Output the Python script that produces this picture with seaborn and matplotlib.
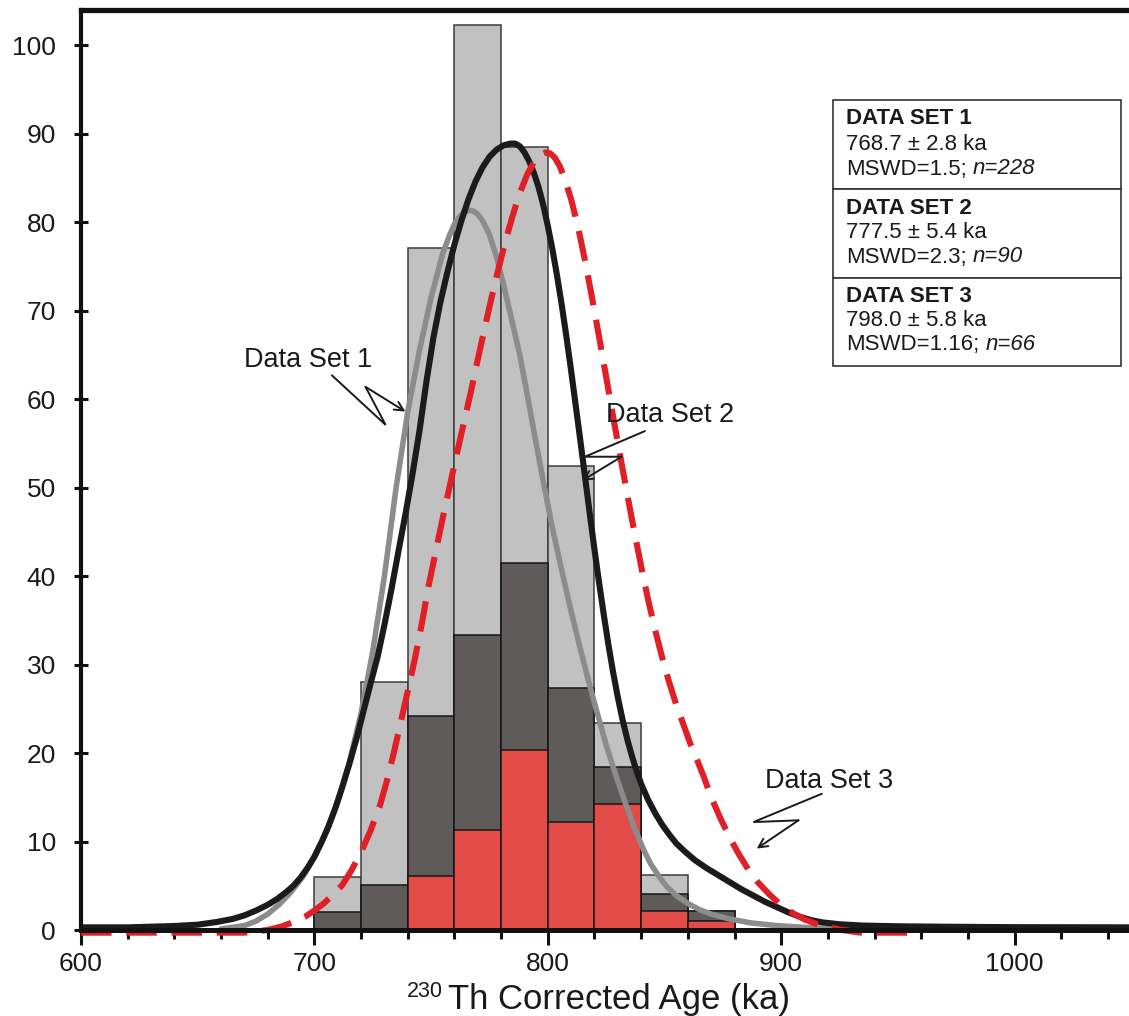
import matplotlib
matplotlib.use("Agg")
import matplotlib.pyplot as plt
import seaborn as sns
from matplotlib.patches import Rectangle
from matplotlib.text import Annotation

# ---- histogram (20 ka bins), one layer per data set ----
bin_edges = [700, 720, 740, 760, 780, 800, 820, 840, 860, 880]
hist_set1 = [6.0, 28.0, 77.1, 102.3, 88.5, 52.4, 23.4, 6.2, 2.1]
hist_set2 = [2.0, 5.1, 24.2, 33.3, 41.5, 27.4, 18.4, 4.1, 2.1]
hist_set3 = [0.0, 0.0, 6.1, 11.3, 20.4, 12.2, 14.3, 2.1, 1.05]

# ---- probability curves ----
curve1_age = [660, 670, 675, 680, 685, 690, 695, 700, 705, 710, 715, 720, 725, 730, 735,
              740, 745, 750, 755, 758, 760, 762, 764, 766, 768, 770, 772, 775, 778, 781,
              784, 788, 791, 795, 798, 802, 806, 810, 814, 818, 821, 825, 829, 833, 837,
              841, 844, 848, 851, 855, 860, 865, 870, 877, 887, 898, 910, 925, 940]
curve1_val = [0.12, 0.5, 1.0, 1.8, 2.9, 4.3, 6.0, 8.2, 11.0, 14.5, 19.0, 24.5, 31.5, 40.0, 50.0,
              58.6, 65.5, 71.5, 76.5, 78.6, 79.8, 80.6, 81.1, 81.35, 81.3, 80.9, 80.2, 78.6, 76.1, 73.0,
              69.6, 65.0, 60.8, 55.0, 50.8, 45.4, 40.6, 36.0, 31.7, 27.6, 24.7, 20.9, 17.6, 14.5, 11.6,
              9.1, 7.5, 5.9, 4.9, 3.9, 3.0, 2.3, 1.8, 1.3, 0.8, 0.5, 0.3, 0.15, 0.1]

curve2_age = [600, 620, 640, 650, 658, 665, 670, 675, 680, 684, 688, 691, 694, 697, 700,
              703, 706, 709, 712, 715, 718, 721, 724, 727, 730, 733, 736, 739, 742, 745,
              748, 751, 754, 757, 760, 763, 766, 769, 772, 775, 778, 781, 784, 786, 788,
              790, 792, 794, 796, 798, 800, 802, 804, 806, 808, 810, 812, 814, 816, 818,
              820, 822, 824, 826, 828, 830, 832, 834, 836, 838, 840, 843, 846, 849, 852,
              855, 859, 863, 868, 873, 878, 883, 888, 893, 898, 903, 908, 913, 918, 925,
              935, 950, 970, 1000, 1050]
curve2_val = [0.3, 0.3, 0.45, 0.6, 0.9, 1.25, 1.65, 2.2, 2.85, 3.5, 4.3, 5.0, 5.9, 7.0, 8.3,
              9.9, 11.7, 13.8, 16.2, 18.8, 21.6, 24.7, 27.8, 30.8, 34.5, 38.5, 42.8, 47.0, 51.5, 56.4,
              62.0, 67.0, 71.0, 74.4, 77.5, 80.2, 82.6, 84.6, 86.2, 87.4, 88.2, 88.7, 88.9, 88.9, 88.6,
              87.9, 86.9, 85.6, 84.0, 82.0, 79.6, 76.9, 73.9, 70.6, 67.0, 63.2, 59.2, 55.2, 51.1, 47.0,
              43.0, 39.2, 35.6, 32.2, 29.1, 26.3, 23.8, 21.6, 19.7, 18.0, 16.5, 14.7, 13.2, 11.9, 10.8,
              9.8, 8.8, 7.9, 7.0, 6.2, 5.4, 4.6, 3.9, 3.2, 2.6, 2.0, 1.5, 1.1, 0.85, 0.65,
              0.5, 0.42, 0.37, 0.32, 0.3]

curve3_age = [600, 640, 670, 680, 686, 691, 696, 700, 704, 708, 712, 716, 720, 724, 728,
              731, 734, 737, 740, 743, 746, 749, 752, 755, 758, 761, 764, 767, 770, 773,
              776, 779, 782, 785, 788, 791, 794, 797, 799, 801, 803, 805, 807, 810, 813,
              816, 819, 822, 825, 828, 831, 834, 837, 840, 843, 846, 849, 852, 855, 858,
              861, 864, 867, 870, 874, 878, 882, 886, 890, 895, 900, 905, 910, 915, 920,
              926, 934, 960]
curve3_val = [-0.3, -0.3, -0.3, 0.0, 0.4, 0.9, 1.5, 2.2, 3.0, 4.0, 5.1, 6.8, 8.8, 11.2, 14.0,
              16.8, 20.0, 23.5, 27.0, 30.6, 34.6, 39.0, 42.8, 46.6, 50.2, 53.8, 57.3, 60.8, 64.5, 68.1,
              71.6, 74.9, 78.0, 80.8, 83.3, 85.3, 86.8, 87.7, 87.9, 87.8, 87.3, 86.4, 85.1, 82.6, 79.4,
              75.6, 71.4, 67.0, 62.5, 58.0, 53.6, 49.3, 45.1, 41.1, 37.3, 33.9, 30.8, 28.0, 25.5, 23.3,
              21.1, 19.2, 17.2, 15.0, 12.6, 10.4, 8.5, 6.8, 5.4, 4.0, 2.8, 1.9, 1.2, 0.7, 0.35,
              0.0, -0.3, -0.3]

x_major = [600, 700, 800, 900, 1000]
y_major = [0, 10, 20, 30, 40, 50, 60, 70, 80, 90, 100]

summary = [
    ("DATA SET 1", "768.7 \u00b1 2.8 ka", "MSWD=1.5;", "n=228"),
    ("DATA SET 2", "777.5 \u00b1 5.4 ka", "MSWD=2.3;", "n=90"),
    ("DATA SET 3", "798.0 \u00b1 5.8 ka", "MSWD=1.16;", "n=66"),
]

# ---- style ----
sns.set_theme(style="white")
plt.rcParams["font.family"] = ["Liberation Sans", "DejaVu Sans"]

INK = "#1a1a1a"
W, H = 1129, 1016
fig = plt.figure(figsize=(W / 100, H / 100), dpi=100)
ax = fig.add_axes([81 / W, 86 / H, 1048 / W, 920 / H])


def fx(px):
    return px / W


def fy(py):
    return 1 - py / H


centers = [(a + b) / 2 for a, b in zip(bin_edges[:-1], bin_edges[1:])]
layers = [
    (hist_set1, "#c1c1c1", "#3c3c3c", 1),
    (hist_set2, "#5f5b5b", "#151515", 2),
    (hist_set3, "#e34b48", "#151515", 3),
]
for vals, face, edge, z in layers:
    sns.histplot(x=centers, weights=vals, bins=bin_edges, color=face, edgecolor=edge,
                 linewidth=1.1, alpha=1, ax=ax, zorder=z)

sns.lineplot(x=curve1_age, y=curve1_val, ax=ax, color="#8c8c8c", linewidth=4.0, zorder=5)
sns.lineplot(x=curve2_age, y=curve2_val, ax=ax, color="#1c1a1a", linewidth=4.4, zorder=6)
sns.lineplot(x=curve3_age, y=curve3_val, ax=ax, color="#e11f26", linewidth=4.4,
             linestyle=(0, (5.0, 2.4)), zorder=7, clip_on=False)

ax.set_xlim(600, 1049)
ax.set_ylim(0, 104)

# ---- axes frame and ticks ----
for side in ("left", "top", "bottom"):
    ax.spines[side].set_color("#111111")
    ax.spines[side].set_zorder(10)
ax.spines["left"].set_linewidth(3.0)
ax.spines["top"].set_linewidth(3.8)
ax.spines["bottom"].set_linewidth(3.6)
ax.spines["right"].set_visible(False)

ax.set_xticks(x_major)
ax.set_xticks(list(range(600, 1041, 20)), minor=True)
ax.set_yticks(y_major)
ax.tick_params(axis="y", direction="inout", length=10, width=2.2, color="#111111",
               labelsize=19, pad=13, left=True, labelcolor=INK)
ax.tick_params(axis="x", which="major", direction="out", length=11, width=2.2,
               color="#111111", labelsize=19, pad=5, bottom=True, labelcolor=INK)
ax.tick_params(axis="x", which="minor", direction="out", length=6.5, width=2.2,
               color="#111111", bottom=True)
ax.set_ylabel("")

# axis title with a leading isotope superscript
ax.set_xlabel("Th Corrected Age (ka)", fontsize=25, color=INK)
ax.xaxis.label.set_va("baseline")
ax.xaxis.set_label_coords((619 - 81) / 1048, -(1009 - 930) / 920)
fig.text(fx(443), fy(981), "230", fontsize=15.5, ha="right", va="top", color=INK)

# ---- labelled zigzag arrows ----
def zigzag(label, label_xy, pts):
    ax.text(*label_xy, label, fontsize=19.5, ha="center", va="center", color=INK, zorder=12)
    xs = [p[0] for p in pts[:3]]
    ys = [p[1] for p in pts[:3]]
    ax.plot(xs, ys, color=INK, lw=1.4, zorder=12, solid_joinstyle="miter")
    ax.annotate("", xy=pts[3], xytext=pts[2],
                arrowprops=dict(arrowstyle="->", lw=1.4, color=INK,
                                mutation_scale=16, shrinkA=0, shrinkB=0), zorder=12)

zigzag("Data Set 1", (697.3, 64.4),
       [(707.5, 62.7), (730.5, 57.1), (721.9, 61.4), (739.0, 58.6)])
zigzag("Data Set 2", (852.4, 58.2),
       [(841.6, 56.4), (815.9, 53.5), (831.6, 53.5), (814.7, 50.8)])
zigzag("Data Set 3", (920.5, 16.9),
       [(917.4, 15.4), (888.1, 12.2), (907.4, 12.4), (889.5, 9.2)])

# ---- summary box (figure pixel layout) ----
box_left, box_right = 833, 1121
rows = [(100, 189), (189, 277.7), (277.7, 366)]
line_offsets = [(19, 45, 69), (19, 44, 68), (19, 43, 67)]
for (top, bottom), offs, (title, age, mswd, n) in zip(rows, line_offsets, summary):
    fig.add_artist(Rectangle((fx(box_left), fy(bottom)), fx(box_right) - fx(box_left),
                             fy(top) - fy(bottom), transform=fig.transFigure,
                             facecolor="white", edgecolor="#333333", lw=1.2, zorder=20))
    fig.text(fx(846), fy(top + offs[0]), title, fontsize=16, weight="bold", va="center",
             color=INK, zorder=21)
    fig.text(fx(846), fy(top + offs[1]), age, fontsize=16, va="center", color=INK, zorder=21)
    t = fig.text(fx(846), fy(top + offs[2]), mswd, fontsize=16, va="center", color=INK,
                 zorder=21)
    ann = Annotation(n, xy=(1, 0.5), xycoords=t, xytext=(4.5, 0), textcoords="offset points",
                     fontsize=16, style="italic", va="center", ha="left", color=INK)
    ann.set_zorder(22)
    fig.add_artist(ann)

fig.savefig("out.png", dpi=100)
